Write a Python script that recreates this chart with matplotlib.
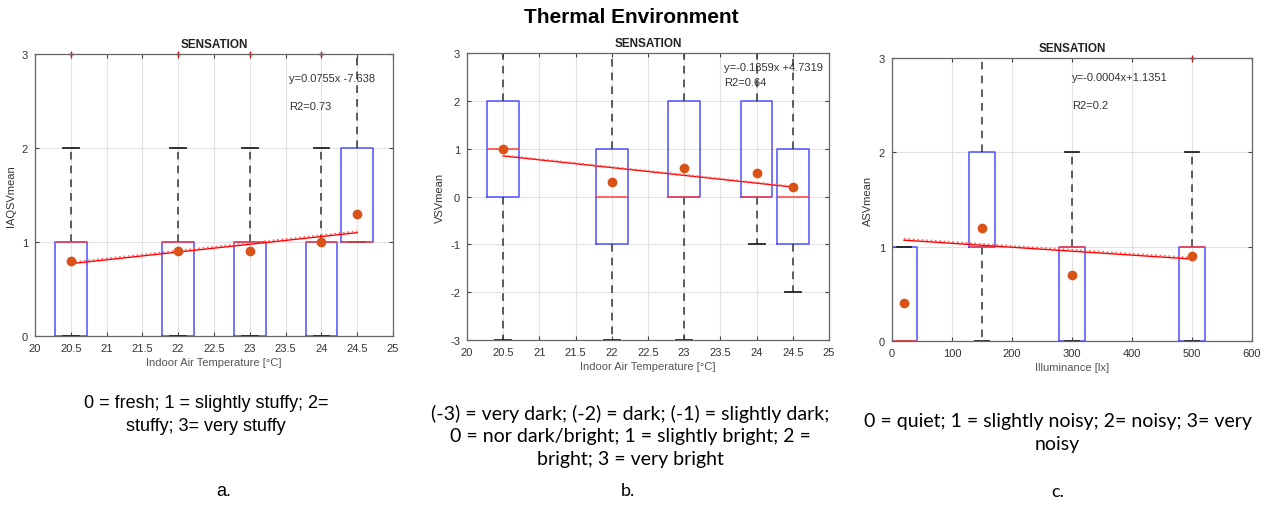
import numpy as np
import matplotlib.pyplot as plt
from matplotlib.ticker import FuncFormatter

# --- a. indoor air quality sensation vs temperature
temp_pos = [20.5, 22, 23, 24, 24.5]
q1_a = [0, 0, 0, 0, 1]
med_a = [1, 1, 1, 1, 1]
q3_a = [1, 1, 1, 1, 2]
lo_a = [0, 0, 0, 0, 1]
hi_a = [2, 2, 2, 2, 3]
out_a = [[3], [3], [3], [3], []]
mean_a = [0.8, 0.9, 0.9, 1.0, 1.3]
trend_a = [0.77, 1.10]

# --- b. visual sensation vs temperature
q1_b = [0, -1, 0, 0, -1]
med_b = [1, 0, 0, 0, 0]
q3_b = [2, 1, 2, 2, 1]
lo_b = [-3, -3, -3, -1, -2]
hi_b = [3, 3, 3, 3, 3]
out_b = [[], [], [], [], []]
mean_b = [1.0, 0.3, 0.6, 0.5, 0.2]
trend_b = [0.85, 0.20]

# --- c. acoustic sensation vs illuminance
lux_pos = [20, 150, 300, 500]
q1_c = [0, 1, 0, 0]
med_c = [0, 1, 1, 1]
q3_c = [1, 2, 1, 1]
lo_c = [0, 0, 0, 0]
hi_c = [1, 3, 2, 2]
out_c = [[], [], [], [3]]
mean_c = [0.4, 1.2, 0.7, 0.9]
trend_c = [1.07, 0.87]

eq_a = ['y=0.0755x -7.638', 'R2=0.73']
eq_b = ['y=-0.1859x +4.7319', 'R2=0.64']
eq_c = ['y=-0.0004x+1.1351', 'R2=0.2']

cap_a = '0 = fresh; 1 = slightly stuffy; 2=\nstuffy; 3= very stuffy'
cap_b = ('(-3) = very dark; (-2) = dark; (-1) = slightly dark;\n'
         '0 = nor dark/bright; 1 = slightly bright; 2 =\nbright; 3 = very bright')
cap_c = '0 = quiet; 1 = slightly noisy; 2= noisy; 3= very\nnoisy'

plt.rcParams['font.family'] = ['Liberation Sans', 'DejaVu Sans']
plt.rcParams['axes.unicode_minus'] = False

fig = plt.figure(figsize=(12.71, 5.06), dpi=100)
ax_a = fig.add_axes([0.0275, 0.334, 0.2817, 0.557])
ax_b = fig.add_axes([0.3674, 0.326, 0.2848, 0.567])
ax_c = fig.add_axes([0.7018, 0.324, 0.2832, 0.559])


def panel(ax, pos, q1, med, q3, lo, hi, out, means, trend, width, capw):
    stats = []
    for i in range(len(pos)):
        stats.append(dict(q1=q1[i], med=med[i], q3=q3[i],
                          whislo=lo[i], whishi=hi[i], fliers=out[i]))
    parts = ax.bxp(stats, positions=pos, widths=width, capwidths=capw,
                   manage_ticks=False,
                   boxprops=dict(color='#5050ff', lw=1.1),
                   medianprops=dict(color='#ff4040', lw=1.1),
                   whiskerprops=dict(color='#333333', lw=1.1, ls=(0, (5, 4))),
                   capprops=dict(color='#222222', lw=1.3),
                   flierprops=dict(marker='+', markeredgecolor='red',
                                   markersize=5, markeredgewidth=1.0))
    for fl in parts['fliers']:
        fl.set_clip_on(False)
    tx = [pos[0], pos[-1]]
    ax.plot(tx, trend, color='red', lw=1.0, zorder=4)
    ax.plot(tx, np.array(trend) + 0.015, color='#ff6060', lw=1.2, ls=':', zorder=4)
    ax.plot(pos, means, 'o', color='#d95319', markersize=6, zorder=5)
    ax.grid(True, color='#e2e2e2', lw=0.8)
    ax.set_axisbelow(True)
    ax.tick_params(direction='in', top=True, right=True, length=3, pad=5,
                   labelsize=8, colors='#444444', labelcolor='#333333')
    for s in ax.spines.values():
        s.set_color('#666666')
        s.set_linewidth(0.9)
    ax.xaxis.set_major_formatter(FuncFormatter(lambda v, p: '%g' % v))
    ax.set_title('SENSATION', fontsize=8.5, fontweight='bold', pad=5,
                 color='#222222')


panel(ax_a, temp_pos, q1_a, med_a, q3_a, lo_a, hi_a, out_a, mean_a, trend_a, 0.44, 0.22)
ax_a.set_xlim(20, 25)
ax_a.set_ylim(0, 3)
ax_a.set_xticks(np.arange(20, 25.01, 0.5))
ax_a.set_yticks([0, 1, 2, 3])
ax_a.set_xlabel('Indoor Air Temperature [°C]', fontsize=8, color='#555555', labelpad=3)
ax_a.set_ylabel('IAQSVmean', fontsize=8, color='#333333', labelpad=4)
ax_a.text(23.55, 2.75, eq_a[0], fontsize=8, color='#333333', va='center')
ax_a.text(23.55, 2.45, eq_a[1], fontsize=8, color='#333333', va='center')

panel(ax_b, temp_pos, q1_b, med_b, q3_b, lo_b, hi_b, out_b, mean_b, trend_b, 0.44, 0.22)
ax_b.set_xlim(20, 25)
ax_b.set_ylim(-3, 3)
ax_b.set_xticks(np.arange(20, 25.01, 0.5))
ax_b.set_yticks(np.arange(-3, 4, 1))
ax_b.set_xlabel('Indoor Air Temperature [°C]', fontsize=8, color='#555555', labelpad=3)
ax_b.set_ylabel('VSVmean', fontsize=8, color='#333333', labelpad=4)
ax_b.text(23.55, 2.7, eq_b[0], fontsize=8, color='#333333', va='center')
ax_b.text(23.55, 2.4, eq_b[1], fontsize=8, color='#333333', va='center')

panel(ax_c, lux_pos, q1_c, med_c, q3_c, lo_c, hi_c, out_c, mean_c, trend_c, 44, 22)
ax_c.set_xlim(0, 600)
ax_c.set_ylim(0, 3)
ax_c.set_xticks(np.arange(0, 601, 100))
ax_c.set_yticks([0, 1, 2, 3])
ax_c.set_xlabel('Illuminance [lx]', fontsize=8, color='#555555', labelpad=3)
ax_c.set_ylabel('ASVmean', fontsize=8, color='#333333', labelpad=4)
ax_c.text(300, 2.8, eq_c[0], fontsize=8, color='#333333', va='center')
ax_c.text(300, 2.5, eq_c[1], fontsize=8, color='#333333', va='center')

fig.text(0.4965, 0.966, 'Thermal Environment', fontsize=15, fontweight='bold',
         ha='center', va='center')

# caption a is set in Arial style, b and c in a humanist face
cap_font = ['Lato', 'DejaVu Sans']
fig.text(0.162, 0.180, cap_a, fontsize=13, ha='center',
         va='center', linespacing=1.4)
fig.text(0.496, 0.138, cap_b, fontsize=14, family=cap_font, ha='center',
         va='center', linespacing=1.4)
fig.text(0.832, 0.144, cap_c, fontsize=14, family=cap_font, ha='center',
         va='center', linespacing=1.4)

fig.text(0.176, 0.028, 'a.', fontsize=13, ha='center', va='center')
fig.text(0.494, 0.030, 'b.', fontsize=13, family=cap_font, ha='center', va='center')
fig.text(0.832, 0.028, 'c.', fontsize=13, family=cap_font, ha='center', va='center')

fig.savefig('out.png', dpi=100)
